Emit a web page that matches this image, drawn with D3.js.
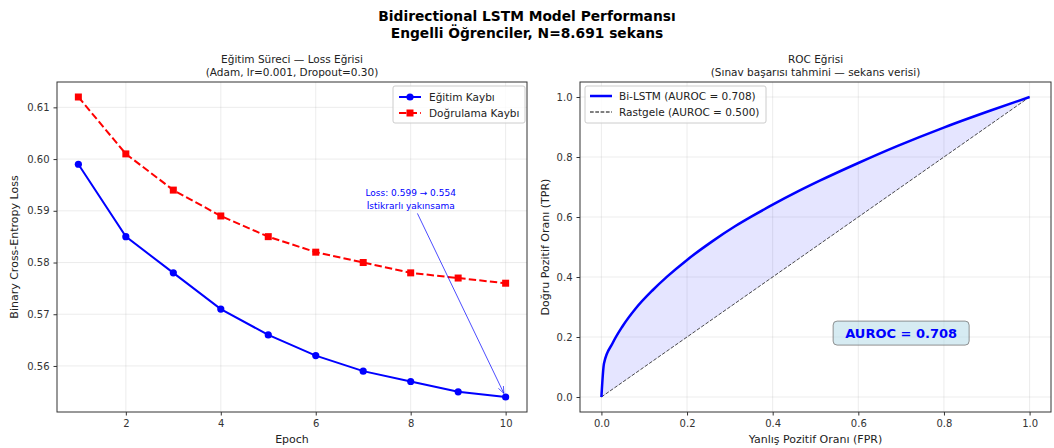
<!DOCTYPE html>
<html>
<head>
<meta charset="utf-8">
<script src="https://cdn.jsdelivr.net/npm/d3@7"></script>
<style>
  body { margin: 0; background: #fff; }
  text { font-family: "DejaVu Sans", sans-serif; fill: #222; }
  .tick text { font-size: 10px; fill: #333; }
  .tick line { stroke: #333; }
  .domain { display: none; }
</style>
</head>
<body>
<svg width="1054" height="448"></svg>
<script>
// --- data ---
var epochs = [1, 2, 3, 4, 5, 6, 7, 8, 9, 10];
var trainLoss = [0.599, 0.585, 0.578, 0.571, 0.566, 0.562, 0.559, 0.557, 0.555, 0.554];
var valLoss = [0.612, 0.601, 0.594, 0.589, 0.585, 0.582, 0.580, 0.578, 0.577, 0.576];

var rocFpr = [0, 0.006, 0.026, 0.049, 0.08, 0.119, 0.154, 0.2, 0.258, 0.312, 0.351, 0.4, 0.46, 0.51, 0.6, 0.692, 0.801, 0.909, 1.0];
var rocTpr = [0, 0.112, 0.179, 0.235, 0.295, 0.355, 0.402, 0.457, 0.518, 0.569, 0.602, 0.641, 0.686, 0.721, 0.78, 0.837, 0.899, 0.955, 1.0];

var lossXTicks = [2, 4, 6, 8, 10];
var lossYTicks = [0.56, 0.57, 0.58, 0.59, 0.60, 0.61];
var rocTicks = [0, 0.2, 0.4, 0.6, 0.8, 1.0];

var svg = d3.select("svg");
svg.append("rect").attr("width", 1054).attr("height", 448).attr("fill", "#fff");

// suptitle
svg.append("text").attr("x", 527).attr("y", 21).attr("text-anchor", "middle")
    .style("font-size", "13.8px").style("font-weight", "bold").style("fill", "#000")
    .text("Bidirectional LSTM Model Performansı");
svg.append("text").attr("x", 527).attr("y", 38).attr("text-anchor", "middle")
    .style("font-size", "13.8px").style("font-weight", "bold").style("fill", "#000")
    .text("Engelli Öğrenciler, N=8.691 sekans");

function panel(x0, x1, y0, y1) {
    return { left: x0, right: x1, top: y0, bottom: y1 };
}

function drawFrame(g, p, x, y, xt, yt, xfmt, yfmt) {
    // grid
    g.append("g").selectAll("line").data(xt).enter().append("line")
        .attr("x1", function(d) { return x(d); }).attr("x2", function(d) { return x(d); })
        .attr("y1", p.top).attr("y2", p.bottom)
        .attr("stroke", "#b0b0b0").attr("stroke-opacity", 0.3).attr("stroke-width", 0.8);
    g.append("g").selectAll("line").data(yt).enter().append("line")
        .attr("y1", function(d) { return y(d); }).attr("y2", function(d) { return y(d); })
        .attr("x1", p.left).attr("x2", p.right)
        .attr("stroke", "#b0b0b0").attr("stroke-opacity", 0.3).attr("stroke-width", 0.8);

    g.append("g").attr("transform", "translate(0," + p.bottom + ")")
        .call(d3.axisBottom(x).tickValues(xt).tickFormat(xfmt).tickSize(3.5).tickPadding(4));
    g.append("g").attr("transform", "translate(" + p.left + ",0)")
        .call(d3.axisLeft(y).tickValues(yt).tickFormat(yfmt).tickSize(3.5).tickPadding(4));
}

function drawBorder(g, p) {
    g.append("rect").attr("x", p.left).attr("y", p.top)
        .attr("width", p.right - p.left).attr("height", p.bottom - p.top)
        .attr("fill", "none").attr("stroke", "#333").attr("stroke-width", 1);
}

// ================= left: loss curves =================
var pL = panel(57, 527, 82, 412);
var gL = svg.append("g");
var xL = d3.scaleLinear().domain([0.55, 10.45]).range([pL.left, pL.right]);
var yL = d3.scaleLinear().domain([0.5511, 0.6149]).range([pL.bottom, pL.top]);

drawFrame(gL, pL, xL, yL, lossXTicks, lossYTicks, d3.format("d"), d3.format(".2f"));

var lineL = d3.line().x(function(d) { return xL(d[0]); }).y(function(d) { return yL(d[1]); });
var trainPts = epochs.map(function(e, i) { return [e, trainLoss[i]]; });
var valPts = epochs.map(function(e, i) { return [e, valLoss[i]]; });

gL.append("path").datum(valPts).attr("d", lineL)
    .attr("fill", "none").attr("stroke", "#ff0000").attr("stroke-width", 2)
    .attr("stroke-dasharray", "7.4,3.2");
gL.selectAll(".vm").data(valPts).enter().append("rect")
    .attr("x", function(d) { return xL(d[0]) - 3.5; })
    .attr("y", function(d) { return yL(d[1]) - 3.5; })
    .attr("width", 7).attr("height", 7).attr("fill", "#ff0000");

gL.append("path").datum(trainPts).attr("d", lineL)
    .attr("fill", "none").attr("stroke", "#0000ff").attr("stroke-width", 2);
gL.selectAll(".tm").data(trainPts).enter().append("circle")
    .attr("cx", function(d) { return xL(d[0]); })
    .attr("cy", function(d) { return yL(d[1]); })
    .attr("r", 3.6).attr("fill", "#0000ff");

// annotation
svg.append("defs").append("marker")
    .attr("id", "arrowHead").attr("viewBox", "0 0 10 10")
    .attr("refX", 10).attr("refY", 5).attr("markerWidth", 7).attr("markerHeight", 7)
    .attr("orient", "auto").attr("markerUnits", "userSpaceOnUse")
    .append("path").attr("d", "M0,1 L10,5 L0,9").attr("fill", "none")
    .attr("stroke", "#0000ff").attr("stroke-opacity", 0.7).attr("stroke-width", 1.2);

var annX = xL(8), annY = yL(0.5922);
gL.append("text").attr("x", annX).attr("y", annY - 3).attr("text-anchor", "middle")
    .style("font-size", "9px").style("fill", "#0000ff").text("Loss: 0.599 → 0.554");
gL.append("text").attr("x", annX).attr("y", annY + 10).attr("text-anchor", "middle")
    .style("font-size", "9px").style("fill", "#0000ff").text("İstikrarlı yakınsama");
var tx = xL(10), ty = yL(0.554);
var sy = annY + 14, sx = annX + (tx - annX) * (sy - annY) / (ty - annY);
var len = Math.hypot(tx - sx, ty - sy), shrink = 4;
gL.append("line").attr("x1", sx).attr("y1", sy)
    .attr("x2", tx - (tx - sx) / len * shrink).attr("y2", ty - (ty - sy) / len * shrink)
    .attr("stroke", "#0000ff").attr("stroke-opacity", 0.7).attr("stroke-width", 1)
    .attr("marker-end", "url(#arrowHead)");

drawBorder(gL, pL);

// legend left
var legL = gL.append("g").attr("transform", "translate(393,86)");
legL.append("rect").attr("width", 132).attr("height", 37).attr("rx", 2)
    .attr("fill", "#fff").attr("fill-opacity", 0.8).attr("stroke", "#ccc");
legL.append("line").attr("x1", 6).attr("x2", 28).attr("y1", 11).attr("y2", 11)
    .attr("stroke", "#0000ff").attr("stroke-width", 2);
legL.append("circle").attr("cx", 17).attr("cy", 11).attr("r", 3.6).attr("fill", "#0000ff");
legL.append("text").attr("x", 36).attr("y", 15).style("font-size", "10.5px").text("Eğitim Kaybı");
legL.append("line").attr("x1", 6).attr("x2", 28).attr("y1", 27).attr("y2", 27)
    .attr("stroke", "#ff0000").attr("stroke-width", 2).attr("stroke-dasharray", "7.4,3.2");
legL.append("rect").attr("x", 13.5).attr("y", 23.5).attr("width", 7).attr("height", 7).attr("fill", "#ff0000");
legL.append("text").attr("x", 36).attr("y", 31).style("font-size", "10.5px").text("Doğrulama Kaybı");

// titles / labels left
var cL = (pL.left + pL.right) / 2;
svg.append("text").attr("x", cL).attr("y", 63).attr("text-anchor", "middle")
    .style("font-size", "10.5px").text("Eğitim Süreci — Loss Eğrisi");
svg.append("text").attr("x", cL).attr("y", 76).attr("text-anchor", "middle")
    .style("font-size", "10.5px").text("(Adam, lr=0.001, Dropout=0.30)");
svg.append("text").attr("x", cL).attr("y", 443).attr("text-anchor", "middle")
    .style("font-size", "11px").text("Epoch");
svg.append("text").attr("transform", "translate(18," + ((pL.top + pL.bottom) / 2) + ") rotate(-90)")
    .attr("text-anchor", "middle").style("font-size", "11px").text("Binary Cross-Entropy Loss");

// ================= right: ROC =================
var pR = panel(580, 1051, 82, 412);
var gR = svg.append("g");
var xR = d3.scaleLinear().domain([-0.05, 1.05]).range([pR.left, pR.right]);
var yR = d3.scaleLinear().domain([-0.05, 1.05]).range([pR.bottom, pR.top]);

drawFrame(gR, pR, xR, yR, rocTicks, rocTicks, d3.format(".1f"), d3.format(".1f"));

var rocPts = rocFpr.map(function(f, i) { return [f, rocTpr[i]]; });
var area = d3.area().curve(d3.curveMonotoneX)
    .x(function(d) { return xR(d[0]); })
    .y0(function(d) { return yR(d[0]); })
    .y1(function(d) { return yR(d[1]); });
gR.append("path").datum(rocPts).attr("d", area).attr("fill", "#0000ff").attr("fill-opacity", 0.1);

gR.append("line").attr("x1", xR(0)).attr("y1", yR(0)).attr("x2", xR(1)).attr("y2", yR(1))
    .attr("stroke", "#000").attr("stroke-opacity", 0.7).attr("stroke-width", 1)
    .attr("stroke-dasharray", "3.7,1.6");

var rocLine = d3.line().curve(d3.curveMonotoneX)
    .x(function(d) { return xR(d[0]); }).y(function(d) { return yR(d[1]); });
gR.append("path").datum(rocPts).attr("d", rocLine)
    .attr("fill", "none").attr("stroke", "#0000ff").attr("stroke-width", 2.5);

// AUROC box
var boxG = gR.append("g").attr("transform", "translate(" + xR(0.70) + "," + yR(0.213) + ")");
boxG.append("rect").attr("x", -68).attr("y", -12).attr("width", 136).attr("height", 24).attr("rx", 4)
    .attr("fill", "#add8e6").attr("fill-opacity", 0.5).attr("stroke", "#777").attr("stroke-opacity", 0.8);
boxG.append("text").attr("y", 5).attr("text-anchor", "middle")
    .style("font-size", "13px").style("font-weight", "bold").style("fill", "#0000ff")
    .text("AUROC = 0.708");

drawBorder(gR, pR);

// legend right
var legR = gR.append("g").attr("transform", "translate(585,86)");
legR.append("rect").attr("width", 181).attr("height", 37).attr("rx", 2)
    .attr("fill", "#fff").attr("fill-opacity", 0.8).attr("stroke", "#ccc");
legR.append("line").attr("x1", 5).attr("x2", 27).attr("y1", 10).attr("y2", 10)
    .attr("stroke", "#0000ff").attr("stroke-width", 2.5);
legR.append("text").attr("x", 34).attr("y", 14).style("font-size", "10.5px").text("Bi-LSTM (AUROC = 0.708)");
legR.append("line").attr("x1", 5).attr("x2", 27).attr("y1", 26).attr("y2", 26)
    .attr("stroke", "#000").attr("stroke-width", 1).attr("stroke-dasharray", "3.7,1.6");
legR.append("text").attr("x", 34).attr("y", 30).style("font-size", "10.5px").text("Rastgele (AUROC = 0.500)");

var cR = (pR.left + pR.right) / 2;
svg.append("text").attr("x", cR).attr("y", 63).attr("text-anchor", "middle")
    .style("font-size", "10.5px").text("ROC Eğrisi");
svg.append("text").attr("x", cR).attr("y", 76).attr("text-anchor", "middle")
    .style("font-size", "10.5px").text("(Sınav başarısı tahmini — sekans verisi)");
svg.append("text").attr("x", cR).attr("y", 443).attr("text-anchor", "middle")
    .style("font-size", "11px").text("Yanlış Pozitif Oranı (FPR)");
svg.append("text").attr("transform", "translate(549," + ((pR.top + pR.bottom) / 2) + ") rotate(-90)")
    .attr("text-anchor", "middle").style("font-size", "11px").text("Doğru Pozitif Oranı (TPR)");
</script>
</body>
</html>
